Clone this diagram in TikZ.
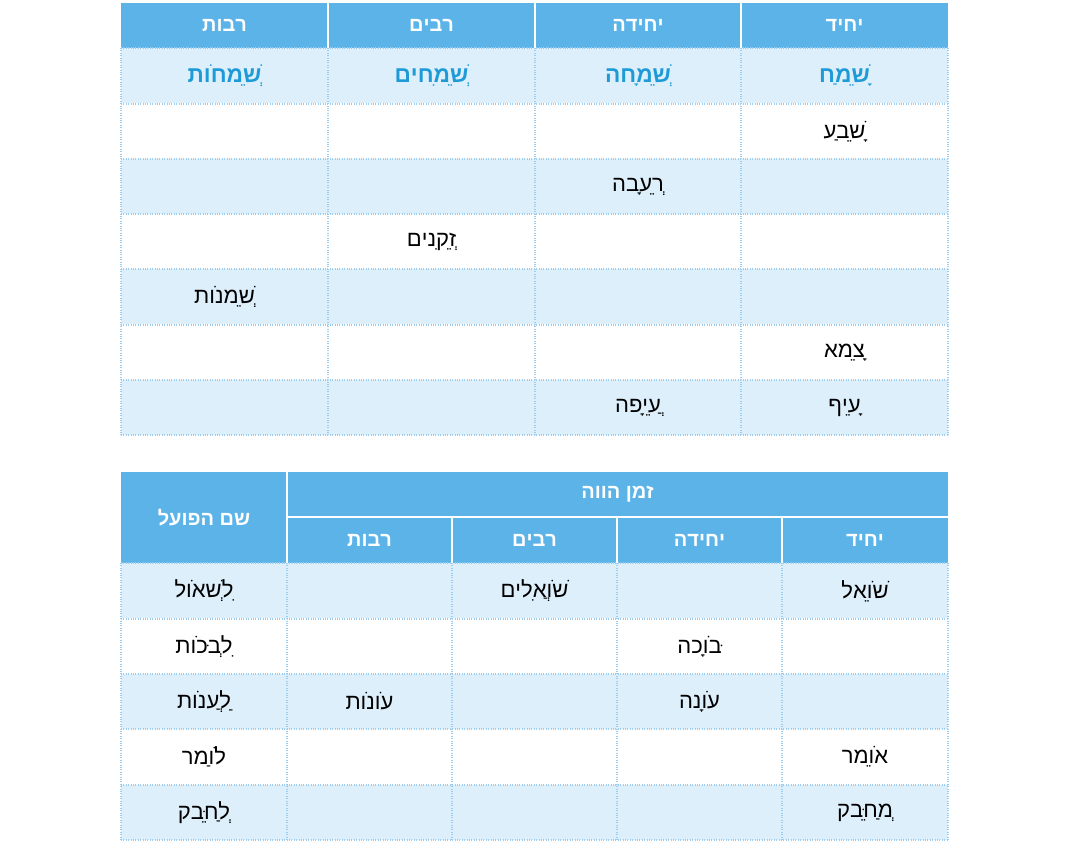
\documentclass[tikz,border=0pt]{standalone}
\usepackage{fontspec}
\setmainfont{Liberation Sans}
\TeXXeTstate=1
\newcommand{\heb}[1]{\beginR #1\endR}
\tikzset{
	head/.style={fill=headblue},
	light/.style={fill=rowblue},
	gridline/.style={draw=lineblue,densely dotted,line width=0.8pt},
	headline/.style={draw=white,line width=0.8pt},
	headtxt/.style={text=white,font=\fontsize{15}{15}\selectfont\bfseries},
	bluetxt/.style={text=wordblue,font=\fontsize{17}{17}\selectfont\bfseries},
	word/.style={font=\fontsize{16.5}{16.5}\selectfont}
}
\definecolor{headblue}{HTML}{5BB3E8}
\definecolor{rowblue}{HTML}{DEEFFC}
\definecolor{lineblue}{HTML}{9CCDF0}
\definecolor{wordblue}{HTML}{1E9BD7}

\begin{document}
\begin{tikzpicture}[x=0.75pt,y=-0.75pt]
	\useasboundingbox (0,0) rectangle (1069,851);

	% first table: shading
	\fill[head] (121,3) rectangle (948,48);
	\foreach \top in {48,159,269,380}
		\fill[light] (121,\top) rectangle (948,\top+55);
	\foreach \x in {121,328,535,741,948}
		\draw[gridline] (\x,48) -- (\x,435);
	\foreach \y in {48,104,159,214,269,325,380,435}
		\draw[gridline] (121,\y) -- (948,\y);
	\foreach \x in {328,535,741}
		\draw[headline] (\x,3) -- (\x,48);

	\node[headtxt] (h_s) at (844.5,25.5) {\heb{יחיד}};
	\node[headtxt] (h_sf) at (638,25.5) {\heb{יחידה}};
	\node[headtxt] (h_p) at (431.5,25.5) {\heb{רבים}};
	\node[headtxt] (h_pf) at (224.5,25.5) {\heb{רבות}};

	\node[bluetxt] (b_s) at (844.5,76) {\heb{שָׂמֵחַ}};
	\node[bluetxt] (b_sf) at (638,76) {\heb{שְׂמֵחָה}};
	\node[bluetxt] (b_p) at (431.5,76) {\heb{שְׂמֵחִים}};
	\node[bluetxt] (b_pf) at (224.5,76) {\heb{שְׂמֵחוֹת}};

	\node[word] (w_1) at (844.5,131.5) {\heb{שָׂבֵעַ}};
	\node[word] (w_2) at (638,186.5) {\heb{רְעֵבָה}};
	\node[word] (w_3) at (431.5,241.5) {\heb{זְקֵנִים}};
	\node[word] (w_4) at (224.5,297) {\heb{שְׁמֵנוֹת}};
	\node[word] (w_5) at (844.5,352.5) {\heb{צָמֵא}};
	\node[word] (w_6) at (844.5,407.5) {\heb{עָיֵף}};
	\node[word] (w_7) at (638,407.5) {\heb{עֲיֵפָה}};

	% second table
	\fill[head] (121,472) rectangle (948,563);
	\foreach \top in {563,674,785}
		\fill[light] (121,\top) rectangle (948,\top+55);
	\foreach \x in {121,287,452,617,782,948}
		\draw[gridline] (\x,563) -- (\x,840);
	\foreach \y in {563,619,674,729,785,840}
		\draw[gridline] (121,\y) -- (948,\y);
	\draw[headline] (287,472) -- (287,563);
	\draw[headline] (287,517) -- (948,517);
	\foreach \x in {452,617,782}
		\draw[headline] (\x,517) -- (\x,563);

	\node[headtxt] (t_inf) at (204,517.5) {\heb{שם הפועל}};
	\node[headtxt] (t_now) at (617.5,494.5) {\heb{זמן הווה}};
	\node[headtxt] (t_s) at (865,540) {\heb{יחיד}};
	\node[headtxt] (t_sf) at (699.5,540) {\heb{יחידה}};
	\node[headtxt] (t_p) at (534.5,540) {\heb{רבים}};
	\node[headtxt] (t_pf) at (369.5,540) {\heb{רבות}};

	\node[word] (v_1) at (865,591) {\heb{שׁוֹאֵל}};
	\node[word] (v_2) at (534.5,591) {\heb{שׁוֹאֲלִים}};
	\node[word] (v_3) at (204,591) {\heb{לִשְׁאוֹל}};
	\node[word] (v_4) at (699.5,646.5) {\heb{בּוֹכָה}};
	\node[word] (v_5) at (204,646.5) {\heb{לִבְכּוֹת}};
	\node[word] (v_6) at (699.5,701.5) {\heb{עוֹנָה}};
	\node[word] (v_7) at (369.5,701.5) {\heb{עוֹנוֹת}};
	\node[word] (v_8) at (204,701.5) {\heb{לַעֲנוֹת}};
	\node[word] (v_9) at (865,757) {\heb{אוֹמֵר}};
	\node[word] (v_10) at (204,757) {\heb{לוֹמַר}};
	\node[word] (v_11) at (865,812.5) {\heb{מְחַבֵּק}};
	\node[word] (v_12) at (204,812.5) {\heb{לְחַבֵּק}};
\end{tikzpicture}
\end{document}
